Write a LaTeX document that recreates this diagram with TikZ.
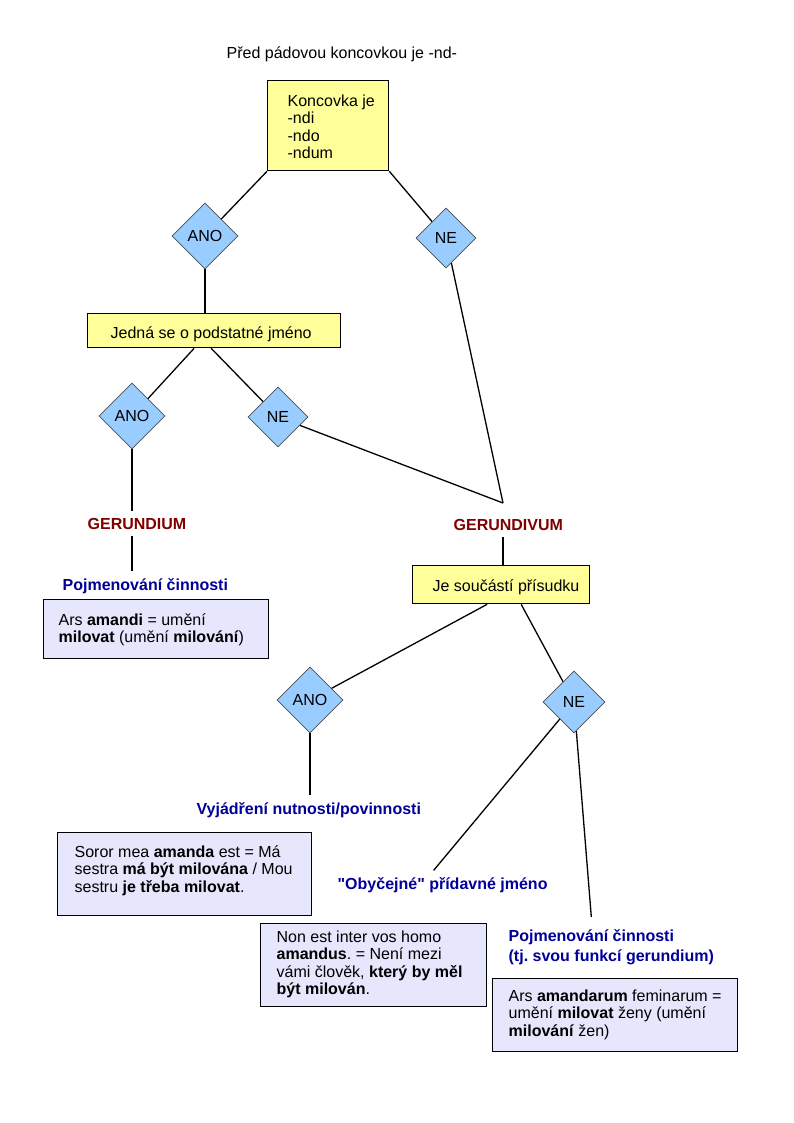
\documentclass[tikz,border=0pt]{standalone}
\usepackage{fontspec}
\setmainfont{Liberation Sans}
\usetikzlibrary{shapes.geometric}
\frenchspacing

\definecolor{boxyellow}{RGB}{255,255,153}
\definecolor{boxlav}{RGB}{230,230,252}
\definecolor{diablue}{RGB}{153,204,255}
\definecolor{gerred}{RGB}{128,0,0}
\definecolor{labelblue}{RGB}{0,0,153}

\begin{document}
\begin{tikzpicture}[x=1pt,y=-1pt,line width=1.3pt,
	every node/.style={font=\fontsize{16}{17.5}\selectfont},
	yesno/.style={diamond,draw=black!70,line width=0.8pt,fill=diablue,inner sep=0pt},
	yellowbox/.style={draw,fill=boxyellow,anchor=north west,inner sep=0pt},
	lavbox/.style={draw,fill=boxlav,anchor=north west,inner sep=0pt},
	boxtext/.style={anchor=north west,inner sep=0pt,align=left},
	redlabel/.style={anchor=base west,inner xsep=0pt,inner ysep=6pt,text=gerred,font=\fontsize{16}{17.5}\selectfont\bfseries},
	bluelabel/.style={anchor=base west,inner xsep=0pt,inner ysep=6pt,text=labelblue,font=\fontsize{16}{20}\selectfont\bfseries}]
	\useasboundingbox (0,0) rectangle (794,1123);
	
	\node[anchor=base west,inner sep=0pt] (title) at (226,59) {Před pádovou koncovkou je -nd-};
	
	% boxes
	\node[yellowbox,minimum width=121pt,minimum height=90pt] (koncovka) at (267,80) {};
	\node[boxtext] (koncovkatext) at (287,94) {Koncovka je\\-ndi\\-ndo\\-ndum};
	\node[yellowbox,minimum width=253pt,minimum height=34pt] (podst) at (87,313) {};
	\node[boxtext] (podsttext) at (110,326) {Jedná se o podstatné jméno};
	\node[lavbox,minimum width=225pt,minimum height=59pt] (ars) at (43,599) {};
	\node[boxtext] (arstext) at (58,613) {Ars \textbf{amandi} = umění\\\textbf{milovat} (umění \textbf{milování})};
	\node[yellowbox,minimum width=177pt,minimum height=38pt] (prisudek) at (412,565) {};
	\node[boxtext] (prisudektext) at (432,579) {Je součástí přísudku};
	\node[lavbox,minimum width=254pt,minimum height=83pt] (soror) at (57,832) {};
	\node[boxtext] (sorortext) at (74,845) {Soror mea \textbf{amanda} est = Má\\sestra \textbf{má být milována} / Mou\\sestru \textbf{je třeba milovat}.};
	\node[lavbox,minimum width=226pt,minimum height=83pt] (homo) at (260,923) {};
	\node[boxtext] (homotext) at (276,930) {Non est inter vos homo\\\textbf{amandus}. = Není mezi\\vámi člověk, \textbf{který by měl}\\\textbf{být milován}.};
	\node[lavbox,minimum width=245pt,minimum height=73pt] (feminarum) at (492,978) {};
	\node[boxtext] (feminarumtext) at (508,989) {Ars \textbf{amandarum} feminarum =\\umění \textbf{milovat} ženy (umění\\\textbf{milování} žen)};
	
	% diamonds
	\foreach \n/\x/\y/\s/\t in {ano1/205/236/66/ANO,ne1/446/238/60/NE,ano2/132/416/66/ANO,ne2/278/417/60/NE,ano3/310/700/66/ANO,ne3/574/702/62/NE}
	\node[yesno,minimum width=\s pt,minimum height=\s pt] (\n) at (\x,\y) {\t};
	
	% labels
	\node[redlabel] (gerundium) at (87,529) {GERUNDIUM};
	\node[redlabel] (gerundivum) at (453,530) {GERUNDIVUM};
	\node[bluelabel] (pojm1) at (62,590) {Pojmenování činnosti};
	\node[bluelabel] (vyj) at (196,814) {Vyjádření nutnosti/povinnosti};
	\node[bluelabel] (obyc) at (337,889) {\textquotedbl Obyčejné\textquotedbl\ přídavné jméno};
	\node[bluelabel,anchor=north west,inner ysep=12pt,align=left] (pojm2) at (508,917) {Pojmenování činnosti\\(tj. svou funkcí gerundium)};
	\coordinate (join) at (503,503);
	
	% connectors
	\draw (koncovka.south west) -- (ano1);
	\draw (koncovka.south east) -- (ne1);
	\draw (ano1) -- (ano1 |- podst.north);
	\draw ([xshift=-20pt]podst.south) -- (ano2);
	\draw ([xshift=-3pt]podst.south) -- (ne2);
	\draw (ano2) -- (ano2 |- gerundium.north);
	\draw (ano2 |- gerundium.south) -- (ano2 |- pojm1.north);
	\draw (ne1) -- (join);
	\draw (ne2) -- (join);
	\draw (join |- gerundivum.south) -- (join |- prisudek.north);
	\draw ([xshift=-14pt]prisudek.south) -- (ano3);
	\draw ([xshift=20pt]prisudek.south) -- (ne3);
	\draw (ano3) -- (ano3 |- vyj.north);
	\draw (ne3) -- ([xshift=-9pt]obyc.north);
	\draw (ne3) -- ([xshift=-20pt]pojm2.north);
\end{tikzpicture}
\end{document}
